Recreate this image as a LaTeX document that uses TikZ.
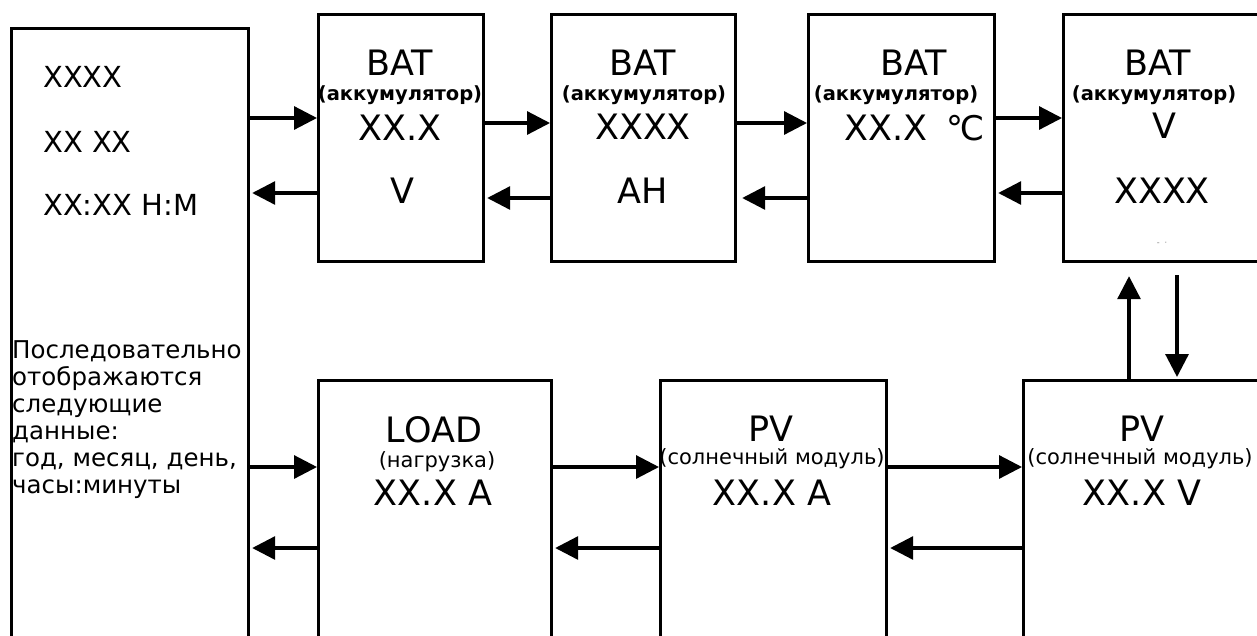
\documentclass[tikz,border=0pt]{standalone}
\usepackage{fontspec}
\setmainfont{DejaVu Sans}
\usetikzlibrary{arrows.meta}
\begin{document}
\begin{tikzpicture}[x=1pt,y=-1pt,
  box/.style={draw, line width=3.2pt, anchor=north west, inner sep=0pt},
  big/.style={font=\fontsize{35}{35}\selectfont, inner sep=0pt, anchor=base},
  mid/.style={font=\fontsize{29}{29}\selectfont, inner sep=0pt, anchor=base west},
  acc/.style={font=\bfseries\fontsize{19.5}{19.5}\selectfont, inner sep=0pt, anchor=base},
  sub/.style={font=\fontsize{21}{21}\selectfont, inner sep=0pt, anchor=base},
  body/.style={font=\fontsize{24.5}{27}\selectfont, inner sep=0pt, anchor=base west},
  arr/.style={line width=3.2pt, -{Triangle[length=23pt,width=23pt]}}]
\useasboundingbox (0,0) rectangle (1257,635);
\fill[white] (0,0) rectangle (1257,635);
\clip (0,0) rectangle (1257,635);

% boxes
\node[box, minimum width=237pt, minimum height=640pt] (left) at (10,27) {};
\node[box, minimum width=165pt, minimum height=247pt] (bat1) at (317,13) {};
\node[box, minimum width=184pt, minimum height=247pt] (bat2) at (550,13) {};
\node[box, minimum width=186pt, minimum height=247pt] (bat3) at (807,13) {};
\node[box, minimum width=230pt, minimum height=247pt] (bat4) at (1062,13) {};
\node[box, minimum width=233pt, minimum height=270pt] (load) at (317,379) {};
\node[box, minimum width=226pt, minimum height=270pt] (pv1) at (659,379) {};
\node[box, minimum width=260pt, minimum height=270pt] (pv2) at (1022,379) {};

% left box text
\node[mid] (t1) at (43,87) {XXXX};
\node[mid] (t2) at (43,152) {XX XX};
\node[mid] (t3) at (43,215) {XX:XX H:M};
\node[body] (c1) at (12,358) {Последовательно};
\node[body] (c2) at (12,385) {отображаются};
\node[body] (c3) at (12,412) {следующие};
\node[body] (c4) at (12,439) {данные:};
\node[body] (c5) at (12,466) {год, месяц, день,};
\node[body] (c6) at (12,493) {часы:минуты};

% BAT 1
\node[big] (b1a) at (400,75) {BAT};
\node[acc] (b1b) at (400,100) {(аккумулятор)};
\node[big] (b1c) at (400,140) {XX.X};
\node[big] (b1d) at (402,203) {V};
% BAT 2
\node[big] (b2a) at (643,75) {BAT};
\node[acc] (b2b) at (644,100) {(аккумулятор)};
\node[big] (b2c) at (643,139) {XXXX};
\node[big] (b2d) at (643,203) {AH};
% BAT 3
\node[big] (b3a) at (914,75) {BAT};
\node[acc] (b3b) at (896,100) {(аккумулятор)};
\node[big] (b3c) at (886,140) {XX.X};
\node[inner sep=0pt, anchor=base, font=\fontsize{34}{34}\selectfont] (b3d) at (966,140) {℃};
% BAT 4
\node[big] (b4a) at (1158,75) {BAT};
\node[acc] (b4b) at (1154,100) {(аккумулятор)};
\node[big] (b4c) at (1164,138) {V};
\node[big] (b4d) at (1162,203) {XXXX};
\node[inner sep=0pt, anchor=base, font=\fontsize{8}{8}\selectfont, text=gray] (b4e) at (1162,245) {-\ \ ·};

% bottom row text
\node[big] (l1) at (434,442) {LOAD};
\node[sub] (l2) at (437,467) {(нагрузка)};
\node[big] (l3) at (433,505) {XX.X A};
\node[big] (p1a) at (771,441) {PV};
\node[sub] (p1b) at (772,464) {(солнечный модуль)};
\node[big] (p1c) at (772,505) {XX.X A};
\node[big] (p2a) at (1142,441) {PV};
\node[sub] (p2b) at (1140,464) {(солнечный модуль)};
\node[big] (p2c) at (1142,505) {XX.X V};

% row levels
\coordinate (ra) at (0,118);
\coordinate (rb) at (0,123);
\coordinate (rc) at (0,193);
\coordinate (rd) at (0,198);
\coordinate (re) at (0,467);
\coordinate (rf) at (0,548);
\coordinate (vu) at (1129,0);
\coordinate (vd) at (1177,0);

% top connectors
\draw[arr] (left.east |- ra) -- (bat1.west |- ra);
\draw[arr, shorten >=2pt] (bat1.west |- rc) -- (left.east |- rc);
\draw[arr] (bat1.east |- rb) -- (bat2.west |- rb);
\draw[arr, shorten >=2pt] (bat2.west |- rd) -- (bat1.east |- rd);
\draw[arr] (bat2.east |- rb) -- (bat3.west |- rb);
\draw[arr, shorten >=5pt] (bat3.west |- rd) -- (bat2.east |- rd);
\draw[arr] (bat3.east |- ra) -- (bat4.west |- ra);
\draw[arr, shorten >=2pt] (bat4.west |- rc) -- (bat3.east |- rc);

% vertical connectors
\draw[arr, shorten >=13pt] (vu |- pv2.north) -- (vu |- bat4.south);
\draw[arr, shorten <=12pt, shorten >=2pt] (vd |- bat4.south) -- (vd |- pv2.north);

% bottom connectors
\draw[arr] (left.east |- re) -- (load.west |- re);
\draw[arr, shorten >=2pt] (load.west |- rf) -- (left.east |- rf);
\draw[arr] (load.east |- re) -- (pv1.west |- re);
\draw[arr, shorten >=2pt] (pv1.west |- rf) -- (load.east |- rf);
\draw[arr] (pv1.east |- re) -- (pv2.west |- re);
\draw[arr, shorten >=2pt] (pv2.west |- rf) -- (pv1.east |- rf);
\end{tikzpicture}
\end{document}
